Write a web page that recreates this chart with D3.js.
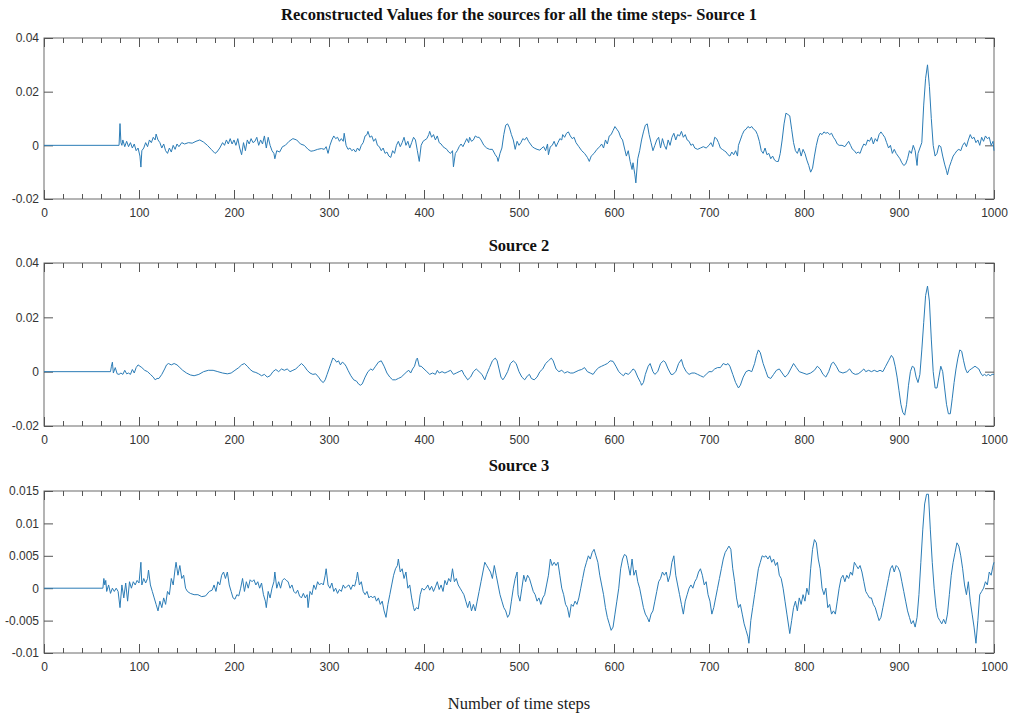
<!DOCTYPE html>
<html>
<head>
<meta charset="utf-8">
<script src="https://cdn.jsdelivr.net/npm/d3@7"></script>
<style>
  body { margin: 0; background: #fff; }
  svg { display: block; }
  .tick text { font-family: "Liberation Sans", Arial, sans-serif; font-size: 12px; fill: #333; }
  .tick line { stroke: #555; }
  .title { font-family: "Liberation Serif", "Times New Roman", serif; font-weight: bold; font-size: 16.5px; fill: #111; }
  .xlabel { font-family: "Liberation Serif", "Times New Roman", serif; font-size: 16.5px; fill: #222; }
</style>
</head>
<body>
<div id="chart"></div>
<script>
// titles / labels
const titles = [
  "Reconstructed Values for the sources for all the time steps- Source 1",
  "Source 2",
  "Source 3"
]
const xLabel = "Number of time steps"

const xTicks = [0, 100, 200, 300, 400, 500, 600, 700, 800, 900, 1000]
const yTicks12 = [-0.02, 0, 0.02, 0.04]
const yTicks3 = [-0.01, -0.005, 0, 0.005, 0.01, 0.015]

// [time step, value]
const source1 = [[0,0],[79,0],[80,0.0081],[81,0.001],[82,0.0],[83,0.002],[85,-0.0005],[87,0.0015],[89,-0.0005],[91,0.001],[93,-0.001],[95,0.0005],[97,-0.002],[99,-0.001],[101,-0.004],[102,-0.0081],[103,-0.002],[105,-0.001],[107,0.001],[109,-0.0005],[111,0.002],[113,0.001],[115,0.003],[117,0.002],[118,0.0042],[120,0.002],[122,0.001],[124,-0.001],[126,0.0005],[128,-0.002],[130,-0.003],[132,-0.001],[134,-0.0025],[136,0.0],[138,-0.0015],[140,0.0005],[142,-0.0005],[145,0.001],[148,0.0005],[152,0.001],[156,0.0008],[160,0.0015],[164,0.002],[168,0.0012],[172,0.0],[176,-0.0015],[180,-0.003],[182,-0.0025],[185,-0.001],[188,0.001],[190,0.0],[192,0.002],[194,0.0005],[196,0.0025],[198,0.0005],[200,0.002],[202,0.0],[204,0.0025],[206,-0.001],[208,-0.0035],[210,0.001],[212,-0.002],[214,0.002],[216,0.0005],[218,0.0025],[220,0.001],[222,0.0015],[224,0.003],[226,0.0],[228,0.002],[230,0.0005],[232,0.0035],[234,-0.001],[236,0.003],[238,0.0],[240,-0.002],[242,-0.003],[243,-0.005],[245,-0.002],[248,-0.0025],[251,-0.0005],[254,0.0],[258,0.0015],[262,0.0025],[266,0.002],[270,0.0005],[274,0.0],[278,-0.0015],[281,-0.0022],[284,-0.002],[288,-0.0015],[292,-0.0012],[295,-0.0015],[297,-0.0005],[299,-0.003],[301,0.0],[303,0.002],[305,0.0035],[307,0.0025],[309,0.003],[311,0.0015],[313,0.0025],[315,0.0015],[316,0.0045],[318,0.0],[320,-0.0015],[322,-0.001],[324,-0.002],[326,-0.0015],[328,-0.0025],[330,-0.001],[332,-0.002],[334,0.0],[336,0.001],[338,0.0035],[340,0.004],[341,0.0052],[343,0.003],[345,0.0035],[347,0.0015],[349,0.0025],[351,0.0],[353,-0.0005],[355,-0.002],[357,-0.001],[359,-0.003],[361,-0.0025],[363,-0.004],[365,-0.0045],[367,-0.002],[369,-0.003],[371,0.0],[373,0.0015],[375,-0.0005],[377,0.001],[379,0.003],[381,0.0],[383,0.0015],[385,-0.001],[387,0.001],[389,0.003],[391,0.002],[393,-0.002],[395,-0.006],[397,0.0],[399,0.0015],[401,0.002],[403,0.0025],[405,0.004],[406,0.0052],[408,0.003],[410,0.004],[412,0.002],[414,0.0035],[416,0.001],[418,0.0005],[420,-0.0005],[422,-0.001],[424,-0.0015],[426,-0.0025],[428,-0.003],[430,-0.002],[431,-0.008],[433,-0.003],[435,-0.002],[437,-0.0005],[439,0.0005],[441,-0.0005],[443,0.001],[445,0.0025],[447,0.001],[448,0.003],[450,0.0015],[452,0.002],[454,0.0035],[456,0.003],[458,0.003],[460,0.002],[463,0.0],[466,-0.001],[469,-0.0015],[472,-0.0015],[475,-0.0035],[477,-0.0045],[478,-0.006],[480,-0.003],[482,-0.001],[484,0.004],[486,0.0075],[488,0.008],[490,0.0065],[492,0.004],[494,0.002],[496,-0.0015],[498,0.0015],[500,0.0],[502,0.001],[504,0.0025],[506,0.002],[508,0.003],[510,0.0015],[512,0.0005],[514,-0.0005],[516,-0.001],[519,-0.0015],[522,-0.0018],[524,-0.001],[526,-0.0005],[528,-0.002],[530,0.0005],[531,-0.0035],[533,-0.0005],[535,0.0],[537,0.0015],[539,-0.0005],[541,0.001],[543,0.0025],[545,0.002],[546,0.004],[548,0.003],[550,0.0045],[552,0.005],[554,0.0035],[556,0.0025],[558,0.003],[560,0.001],[563,-0.0005],[566,-0.002],[569,-0.003],[572,-0.0045],[574,-0.006],[576,-0.004],[579,-0.003],[582,-0.0015],[585,-0.0005],[587,0.0005],[589,-0.001],[591,0.002],[593,0.0005],[595,0.0035],[597,0.004],[599,0.0055],[601,0.007],[603,0.006],[605,0.005],[607,0.003],[609,0.002],[611,-0.001],[613,-0.004],[615,-0.002],[617,-0.006],[619,-0.009],[620,-0.0065],[622,-0.011],[623,-0.014],[625,-0.005],[627,-0.002],[629,0.002],[631,0.005],[633,0.0075],[635,0.008],[637,0.004],[639,0.001],[641,-0.002],[643,0.0],[645,0.002],[647,0.003],[649,-0.001],[651,0.0025],[653,0.0],[655,-0.0015],[657,0.002],[659,0.0],[661,0.003],[663,0.0045],[665,0.002],[667,0.004],[669,0.0035],[671,0.0052],[673,0.003],[675,0.004],[677,0.002],[679,0.0015],[681,0.0],[683,0.0005],[685,-0.001],[688,-0.0015],[691,-0.001],[694,-0.0005],[697,-0.001],[700,0.0],[702,0.001],[704,-0.0005],[706,0.003],[708,0.0025],[710,0.001],[712,-0.001],[714,-0.0015],[716,-0.002],[718,-0.0025],[720,-0.0035],[722,-0.004],[724,-0.0025],[726,-0.0035],[728,-0.002],[730,-0.004],[731,0.0],[733,0.002],[735,0.004],[737,0.0055],[739,0.006],[741,0.007],[743,0.0065],[745,0.007],[747,0.006],[749,0.0055],[751,0.004],[753,0.0015],[755,-0.002],[757,-0.003],[759,-0.001],[761,-0.0035],[763,-0.003],[765,-0.005],[767,-0.004],[769,-0.0055],[771,-0.006],[773,-0.006],[775,-0.003],[777,0.002],[779,0.008],[781,0.012],[783,0.0115],[785,0.011],[787,0.006],[789,0.001],[791,-0.002],[793,-0.003],[795,-0.001],[797,-0.004],[799,-0.0015],[801,-0.003],[803,-0.0055],[805,-0.0075],[807,-0.01],[809,-0.0085],[811,-0.004],[813,0.0],[815,0.003],[817,0.0045],[819,0.004],[821,0.005],[823,0.0045],[825,0.0048],[827,0.004],[829,0.0045],[831,0.003],[833,0.002],[835,0.0005],[837,0.0],[840,0.0],[843,-0.0005],[845,0.0005],[847,0.0015],[849,0.0],[851,-0.0015],[853,-0.002],[855,-0.003],[857,-0.0025],[859,-0.003],[861,-0.001],[863,0.0005],[865,0.0],[867,0.002],[869,0.0015],[871,0.003],[873,0.0005],[875,0.0025],[877,0.0015],[879,0.004],[881,0.005],[883,0.004],[885,0.003],[887,0.001],[889,-0.001],[891,0.0],[893,-0.003],[895,-0.0015],[897,-0.003],[899,-0.004],[901,-0.005],[903,-0.0065],[905,-0.0075],[907,-0.007],[909,-0.005],[911,-0.002],[913,-0.003],[915,0.0],[917,-0.002],[919,-0.0075],[920,-0.003],[922,-0.001],[924,0.001],[926,0.015],[928,0.025],[930,0.03],[932,0.022],[934,0.01],[936,0.0],[938,-0.004],[940,-0.003],[942,0.0],[944,-0.0005],[946,-0.004],[948,-0.007],[950,-0.0095],[951,-0.011],[953,-0.008],[955,-0.006],[957,-0.004],[959,-0.003],[961,-0.002],[963,-0.0015],[965,-0.002],[967,0.0],[969,0.001],[971,-0.0005],[973,0.002],[975,0.004],[977,0.0025],[979,0.003],[981,0.001],[983,0.002],[985,0.0],[987,0.003],[989,0.0015],[991,0.0035],[993,0.0025],[995,0.003],[997,0.0],[999,0.0015],[1000,-0.002]]

const source2 = [[0,0],[70,0],[71,0.002],[72,0.0035],[73,-0.0005],[75,0.0015],[77,-0.0008],[79,-0.001],[81,-0.0005],[83,-0.001],[85,0.0005],[87,-0.0008],[89,-0.0005],[91,-0.001],[93,0.0008],[95,-0.0005],[97,0.0015],[99,0.0025],[101,0.002],[103,0.0015],[106,0.0005],[109,0.0],[112,-0.001],[115,-0.002],[117,-0.003],[119,-0.0025],[121,-0.0025],[124,-0.001],[127,0.001],[129,0.0025],[131,0.003],[134,0.0025],[137,0.003],[140,0.0025],[143,0.0015],[146,0.0005],[150,-0.0005],[154,-0.0012],[158,-0.0015],[163,-0.001],[168,0.0],[173,0.0005],[178,0.0005],[183,0.0],[188,-0.0005],[193,-0.0008],[197,-0.0005],[201,0.0005],[205,0.0015],[208,0.0025],[211,0.003],[214,0.002],[217,0.0008],[220,0.0],[223,-0.0003],[226,-0.0008],[229,-0.0015],[232,-0.001],[235,-0.002],[238,-0.0015],[241,0.0],[244,0.0008],[247,0.0],[250,0.001],[253,0.0005],[256,0.001],[259,0.0],[262,0.0005],[265,0.001],[268,0.002],[271,0.003],[274,0.002],[277,0.0005],[280,-0.0005],[283,-0.001],[286,-0.0008],[289,-0.002],[292,-0.0035],[294,-0.004],[296,-0.003],[298,-0.001],[300,0.001],[302,0.003],[304,0.005],[306,0.0045],[308,0.0035],[310,0.004],[312,0.0025],[314,0.0035],[316,0.003],[318,0.002],[320,0.0005],[323,-0.0015],[326,-0.003],[329,-0.0035],[331,-0.0045],[333,-0.005],[335,-0.0045],[338,-0.002],[341,0.0],[344,0.001],[346,0.0005],[349,0.002],[352,0.0035],[355,0.004],[358,0.002],[361,-0.0005],[364,-0.002],[367,-0.003],[370,-0.003],[373,-0.0025],[376,-0.002],[379,-0.001],[382,0.0],[384,0.0005],[386,-0.0005],[388,0.001],[390,0.002],[392,0.0045],[393,0.005],[395,0.002],[397,0.002],[400,0.001],[403,0.0],[406,-0.001],[409,-0.0005],[412,-0.001],[414,0.0005],[416,-0.0005],[419,0.0],[422,-0.0005],[425,0.0],[428,0.0005],[431,-0.001],[434,-0.0005],[437,0.0],[440,0.0005],[442,-0.001],[444,-0.002],[446,-0.003],[449,-0.002],[452,0.0],[455,0.001],[458,0.0],[461,-0.001],[464,-0.003],[466,-0.001],[469,0.0015],[472,0.004],[475,0.005],[477,0.004],[479,0.001],[481,-0.002],[483,-0.003],[485,-0.002],[488,0.0],[491,0.003],[494,0.004],[497,0.003],[500,0.0],[503,-0.002],[506,-0.003],[509,-0.0015],[511,-0.001],[513,-0.0025],[516,-0.003],[519,-0.002],[522,0.0],[525,0.001],[528,0.003],[531,0.004],[534,0.005],[536,0.004],[539,0.001],[542,0.0],[545,0.0005],[548,-0.0005],[551,0.0],[554,-0.0005],[557,-0.0005],[560,0.0],[563,0.0005],[566,0.0008],[569,0.0015],[572,0.0],[575,-0.0005],[578,-0.001],[581,0.0005],[584,0.0015],[587,0.002],[590,0.0025],[593,0.003],[596,0.004],[599,0.0038],[602,0.002],[605,0.0],[608,-0.001],[610,-0.0015],[612,-0.0005],[615,-0.001],[618,0.0],[620,0.001],[622,0.0005],[625,-0.002],[628,-0.004],[629,-0.005],[631,-0.004],[633,-0.001],[636,0.002],[638,0.003],[641,0.0],[643,-0.001],[646,0.0],[649,0.003],[652,0.004],[654,0.0035],[657,0.001],[660,-0.001],[662,-0.001],[665,0.0],[668,0.003],[671,0.0045],[673,0.002],[676,0.0],[679,-0.001],[682,-0.0005],[685,-0.0005],[688,-0.001],[691,-0.0015],[694,-0.002],[697,-0.001],[700,0.0],[703,0.0],[706,0.001],[709,0.0015],[712,0.0015],[715,0.003],[718,0.0025],[720,0.003],[722,0.002],[725,-0.001],[728,-0.004],[731,-0.006],[733,-0.005],[736,-0.002],[739,0.0],[742,0.0005],[745,0.0],[748,0.003],[750,0.006],[752,0.008],[754,0.007],[757,0.003],[760,0.0],[762,-0.002],[765,-0.0025],[768,-0.001],[771,0.0005],[774,0.001],[777,-0.0005],[780,-0.002],[783,-0.001],[786,0.001],[789,0.003],[792,0.0015],[795,0.0],[799,-0.0005],[803,-0.001],[807,-0.0005],[811,0.0005],[814,0.002],[817,0.001],[820,-0.001],[823,-0.002],[826,0.0],[829,0.003],[831,0.0035],[834,0.002],[837,0.0],[841,-0.0005],[845,0.0],[848,0.001],[851,-0.0005],[854,-0.001],[857,-0.0008],[860,0.0],[863,0.001],[865,0.0],[868,0.0005],[871,0.0],[874,0.0005],[877,0.0],[880,0.0005],[883,0.0],[886,0.002],[889,0.004],[892,0.006],[894,0.005],[896,0.002],[898,-0.002],[900,-0.007],[902,-0.012],[904,-0.015],[906,-0.016],[908,-0.012],[910,-0.005],[912,0.0],[914,0.002],[916,0.0015],[918,-0.002],[920,-0.004],[922,-0.001],[924,0.008],[926,0.018],[928,0.028],[930,0.0315],[932,0.026],[934,0.012],[936,0.0],[938,-0.006],[940,-0.006],[942,-0.002],[944,0.002],[946,0.0],[948,-0.006],[950,-0.012],[952,-0.0155],[954,-0.0155],[956,-0.01],[958,-0.004],[960,0.001],[962,0.005],[964,0.008],[966,0.0075],[968,0.004],[970,0.001],[972,-0.0005],[974,0.0005],[976,0.001],[978,0.0015],[980,0.002],[982,0.0015],[984,0.001],[986,-0.0005],[988,-0.0015],[990,-0.001],[992,-0.0015],[994,-0.001],[996,-0.0015],[998,-0.001],[1000,-0.001]]

const source3 = [[0,0],[62,0],[63,0.0015],[64,0.0005],[65,0.0012],[66,-0.0005],[68,0.0005],[70,-0.0008],[72,0.0],[74,-0.0005],[76,0.0],[78,-0.0005],[80,-0.003],[82,0.0005],[84,-0.0015],[86,0.0008],[88,-0.002],[90,0.001],[92,0.0],[94,0.001],[96,0.0005],[98,0.0012],[100,0.0008],[102,0.004],[103,0.0005],[105,0.0015],[107,0.0008],[109,0.0015],[110,0.0028],[112,0.0005],[114,-0.0005],[116,-0.0015],[118,-0.0025],[120,-0.0035],[122,-0.002],[124,-0.003],[126,-0.0015],[128,-0.0025],[130,-0.0005],[132,-0.001],[134,0.0015],[136,0.0005],[138,0.003],[139,0.004],[141,0.002],[143,0.0035],[145,0.0015],[147,0.002],[149,0.0],[151,-0.0005],[154,-0.0008],[158,-0.001],[162,-0.001],[166,-0.0013],[170,-0.0012],[174,-0.0005],[177,-0.0003],[179,0.0005],[181,-0.0005],[183,0.001],[185,0.0005],[187,0.002],[189,0.0025],[191,0.0015],[193,0.0025],[195,0.0005],[197,-0.0005],[199,-0.0015],[201,-0.0017],[203,-0.001],[205,-0.0012],[207,0.0],[209,0.0015],[211,-0.0005],[213,0.001],[215,0.0],[217,0.0013],[219,0.001],[221,0.0013],[223,0.0005],[225,0.001],[227,0.0],[229,0.0008],[231,-0.001],[233,-0.002],[234,-0.003],[236,-0.0005],[238,-0.0015],[240,0.0],[242,0.001],[243,0.0025],[245,0.0],[247,0.001],[249,0.0],[251,0.0012],[253,0.0015],[255,0.0012],[257,0.001],[259,0.0],[261,0.0005],[263,-0.0005],[265,-0.0008],[267,-0.0003],[269,-0.0012],[271,-0.0015],[273,-0.0008],[275,-0.0015],[277,-0.001],[278,-0.003],[280,-0.0005],[282,-0.001],[284,0.0005],[286,-0.0002],[288,0.001],[290,0.0005],[292,0.0008],[294,0.0005],[296,0.002],[297,0.003],[299,0.0005],[301,0.0],[303,0.0008],[305,-0.0005],[307,0.0],[309,-0.0008],[311,-0.0002],[313,-0.0005],[315,0.0005],[317,0.0],[319,0.0003],[321,0.0005],[323,-0.0002],[325,0.0005],[327,0.0003],[329,0.0015],[330,0.0025],[332,0.0005],[334,0.001],[336,-0.0005],[338,-0.001],[340,-0.0005],[342,-0.0015],[344,-0.0012],[346,-0.0015],[348,-0.0012],[350,-0.002],[352,-0.0015],[354,-0.0025],[356,-0.002],[358,-0.0035],[360,-0.0045],[362,-0.0025],[364,-0.001],[366,0.0005],[368,0.002],[370,0.003],[372,0.0035],[373,0.0045],[375,0.0025],[377,0.003],[379,0.0015],[381,0.0025],[383,0.0],[385,0.0005],[387,-0.0015],[389,-0.003],[390,-0.0035],[392,-0.003],[394,-0.0032],[396,-0.001],[398,0.0],[400,-0.0003],[402,0.0],[404,0.0005],[406,-0.0003],[408,0.0003],[410,-0.0005],[412,0.0002],[414,0.001],[416,-0.0002],[418,0.0005],[420,-0.0005],[422,0.0012],[424,0.0005],[426,0.0015],[428,0.001],[430,0.003],[432,0.001],[434,0.0015],[436,0.0005],[438,0.0],[440,-0.0005],[442,-0.001],[444,-0.002],[446,-0.003],[448,-0.002],[450,-0.0035],[452,-0.0025],[454,-0.0035],[456,-0.002],[458,-0.0005],[460,0.001],[462,0.0025],[464,0.004],[466,0.0035],[468,0.003],[470,0.0025],[472,0.0015],[474,0.0035],[476,0.002],[478,0.0005],[480,-0.001],[482,-0.002],[484,-0.003],[486,-0.0035],[488,-0.0045],[490,-0.004],[492,-0.002],[494,0.0],[496,0.0015],[498,0.0025],[499,-0.001],[501,-0.002],[503,0.0],[505,0.002],[507,0.001],[509,0.002],[511,0.0015],[513,0.0005],[515,-0.0005],[517,-0.001],[519,-0.002],[521,-0.0015],[523,-0.0025],[525,-0.0015],[527,-0.001],[529,0.0005],[531,0.002],[533,0.0045],[535,0.0035],[537,0.004],[539,0.0035],[541,0.004],[543,0.002],[545,0.0],[547,-0.001],[549,-0.0025],[551,-0.003],[553,-0.0045],[555,-0.0025],[557,-0.0028],[559,-0.002],[561,-0.0025],[563,-0.0015],[565,0.0],[567,0.0015],[569,0.003],[571,0.004],[573,0.005],[575,0.0045],[577,0.0055],[579,0.006],[581,0.005],[583,0.004],[585,0.002],[587,0.0005],[589,-0.001],[591,-0.003],[593,-0.0045],[595,-0.0055],[597,-0.0065],[599,-0.006],[601,-0.004],[603,-0.002],[605,0.0],[607,0.003],[609,0.0045],[611,0.0052],[613,0.005],[615,0.0035],[617,0.002],[619,0.0045],[621,0.002],[623,0.0028],[625,0.001],[627,0.0],[629,-0.0015],[631,-0.003],[633,-0.004],[635,-0.0045],[637,-0.0052],[639,-0.004],[641,-0.0035],[643,-0.002],[645,-0.0005],[647,0.001],[649,0.0015],[651,0.0025],[653,0.002],[655,0.0025],[657,0.001],[659,0.002],[661,0.004],[663,0.005],[665,0.002],[667,0.0005],[669,-0.001],[671,-0.0025],[673,-0.004],[675,-0.002],[677,-0.001],[679,0.0],[681,0.0005],[683,0.0],[685,0.001],[687,0.0015],[689,0.0025],[691,0.003],[693,0.002],[695,0.0005],[697,0.001],[699,-0.001],[701,-0.002],[703,-0.004],[705,-0.003],[707,-0.0015],[709,0.0],[711,0.0015],[713,0.003],[715,0.0045],[717,0.0055],[719,0.006],[721,0.0065],[723,0.006],[725,0.003],[727,0.001],[729,-0.0015],[731,-0.003],[733,-0.0025],[735,-0.004],[737,-0.0055],[739,-0.0065],[741,-0.0075],[742,-0.0085],[744,-0.005],[746,-0.003],[748,-0.001],[750,0.001],[752,0.003],[754,0.004],[756,0.005],[758,0.0048],[760,0.005],[762,0.0045],[764,0.005],[766,0.004],[768,0.0045],[770,0.0035],[772,0.004],[774,0.002],[776,0.0015],[778,0.0],[780,-0.002],[782,-0.004],[784,-0.006],[785,-0.007],[787,-0.005],[789,-0.003],[791,-0.002],[793,-0.0035],[795,-0.0015],[797,-0.0025],[799,-0.001],[801,-0.002],[803,0.0],[805,-0.001],[807,0.003],[809,0.006],[811,0.0075],[813,0.007],[815,0.0045],[817,0.003],[819,0.0],[821,-0.001],[823,0.0],[825,-0.003],[827,-0.0025],[829,-0.004],[831,-0.0035],[833,-0.004],[835,-0.002],[837,0.0],[839,0.0015],[841,0.002],[843,0.001],[845,0.002],[847,0.0015],[849,0.0025],[851,0.002],[853,0.004],[855,0.0035],[857,0.003],[859,0.0035],[861,0.0025],[863,0.001],[865,-0.0005],[867,-0.001],[869,-0.0015],[871,-0.0015],[873,-0.0025],[875,-0.003],[877,-0.004],[879,-0.005],[881,-0.0045],[883,-0.003],[885,-0.0015],[887,0.0],[889,0.0015],[891,0.003],[893,0.0035],[895,0.0025],[897,0.0035],[899,0.0032],[901,0.0025],[903,0.001],[905,-0.0005],[907,-0.002],[909,-0.0035],[911,-0.0045],[913,-0.0055],[915,-0.005],[917,-0.006],[919,-0.0045],[921,-0.001],[923,0.004],[925,0.009],[927,0.013],[929,0.0145],[931,0.0145],[933,0.009],[935,0.004],[937,0.0],[939,-0.003],[941,-0.0045],[943,-0.005],[945,-0.0055],[947,-0.0048],[949,-0.0055],[951,-0.004],[953,-0.001],[955,0.002],[957,0.004],[959,0.0055],[961,0.007],[963,0.0065],[965,0.005],[967,0.003],[969,0.0005],[971,-0.001],[973,0.001],[975,-0.002],[977,-0.004],[979,-0.006],[981,-0.0085],[983,-0.005],[985,-0.001],[987,-0.0005],[989,0.0],[991,0.001],[993,0.0005],[995,0.0025],[997,0.002],[999,0.0035],[1000,0.004]]

const width = 1013, height = 719
const lineColor = "#2b7cb6"

const panels = [
  { data: source1, yDomain: [-0.02, 0.04], yTicks: yTicks12, top: 38, bottom: 199, titleY: 20 },
  { data: source2, yDomain: [-0.02, 0.04], yTicks: yTicks12, top: 263, bottom: 426, titleY: 251 },
  { data: source3, yDomain: [-0.01, 0.015], yTicks: yTicks3, top: 491, bottom: 653, titleY: 471 }
]
const left = 44, right = 994

const svg = d3.select("#chart").append("svg")
  .attr("width", width)
  .attr("height", height)

const x = d3.scaleLinear().domain([0, 1000]).range([left, right])
const minorTicks = d3.range(0, 1001, 20).filter(v => v % 100 !== 0)
const fmt = d => String(d)

panels.forEach((p, i) => {

  const y = d3.scaleLinear().domain(p.yDomain).range([p.bottom, p.top])
  const g = svg.append("g")

  // box
  g.append("rect")
    .attr("x", left).attr("y", p.top)
    .attr("width", right - left).attr("height", p.bottom - p.top)
    .attr("fill", "none").attr("stroke", "#6b6b6b").attr("stroke-width", 1)

  // bottom axis with labels, ticks pointing in
  g.append("g").attr("transform", `translate(0,${p.bottom})`)
    .call(d3.axisBottom(x).tickValues(xTicks).tickSize(-9).tickPadding(9).tickFormat(fmt))
    .call(a => a.select(".domain").remove())
  g.append("g").attr("transform", `translate(0,${p.bottom})`)
    .call(d3.axisBottom(x).tickValues(minorTicks).tickSize(-5).tickFormat(""))
    .call(a => a.select(".domain").remove())

  // top mirror ticks
  g.append("g").attr("transform", `translate(0,${p.top})`)
    .call(d3.axisTop(x).tickValues(xTicks).tickSize(-9).tickFormat(""))
    .call(a => a.select(".domain").remove())
  g.append("g").attr("transform", `translate(0,${p.top})`)
    .call(d3.axisTop(x).tickValues(minorTicks).tickSize(-5).tickFormat(""))
    .call(a => a.select(".domain").remove())

  // left / right
  g.append("g").attr("transform", `translate(${left},0)`)
    .call(d3.axisLeft(y).tickValues(p.yTicks).tickSize(-9).tickPadding(5).tickFormat(fmt))
    .call(a => a.select(".domain").remove())
  g.append("g").attr("transform", `translate(${right},0)`)
    .call(d3.axisRight(y).tickValues(p.yTicks).tickSize(-9).tickFormat(""))
    .call(a => a.select(".domain").remove())

  const line = d3.line()
    .x(d => x(d[0]))
    .y(d => y(d[1]))

  g.append("path")
    .datum(p.data)
    .attr("fill", "none")
    .attr("stroke", lineColor)
    .attr("stroke-width", 1)
    .attr("stroke-linejoin", "round")
    .attr("d", line)

  svg.append("text")
    .attr("class", "title")
    .attr("x", (left + right) / 2)
    .attr("y", p.titleY)
    .attr("text-anchor", "middle")
    .text(titles[i])
})

svg.append("text")
  .attr("class", "xlabel")
  .attr("x", (left + right) / 2)
  .attr("y", 709)
  .attr("text-anchor", "middle")
  .text(xLabel)
</script>
</body>
</html>
